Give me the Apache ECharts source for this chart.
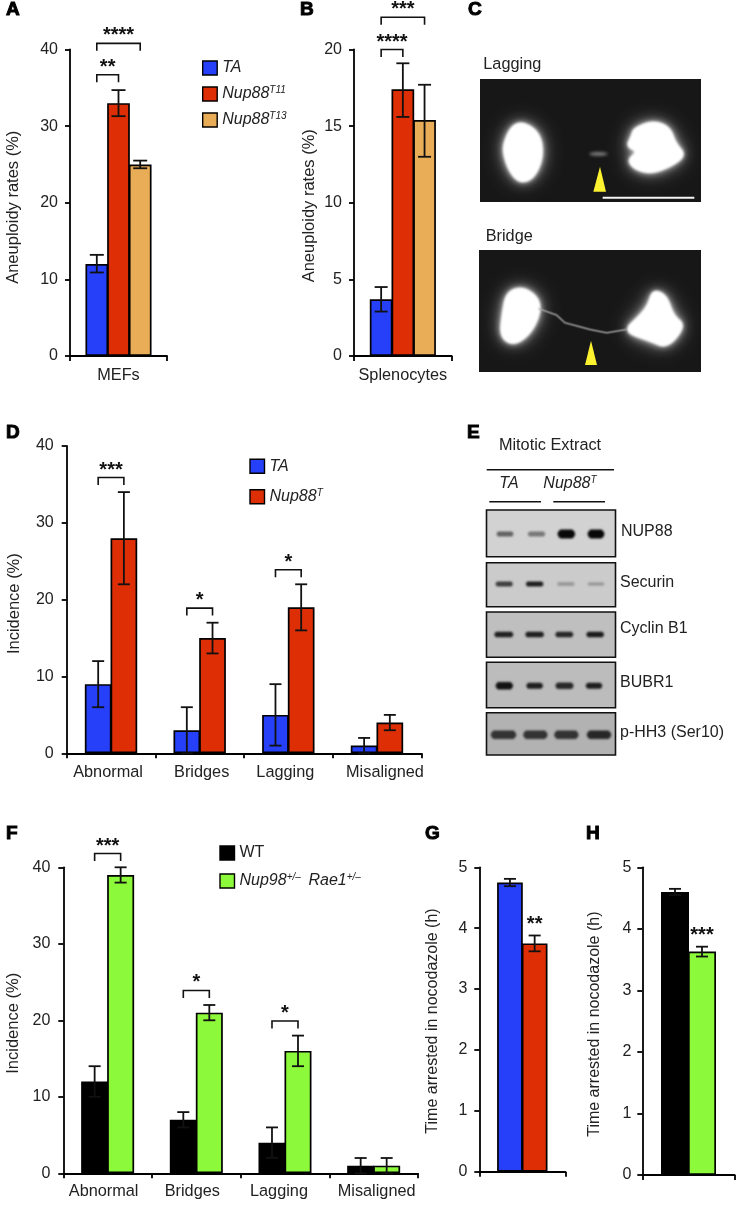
<!DOCTYPE html>
<html>
<head>
<meta charset="utf-8">
<style>html,body{margin:0;padding:0;background:#fff}#c{width:749px;height:1208px}</style>
<script src="https://cdn.jsdelivr.net/npm/echarts@6/dist/echarts.min.js"></script>
</head>
<body>
<div id="c"></div>
<script>
// ---------- Data ----------
const aCategories = ['MEFs'];
const aTA = [12], aT11 = [33], aT13 = [25];
const aErrors = [[10.9, 13.2], [31.3, 34.7], [24.5, 25.5]];
const bCategories = ['Splenocytes'];
const bTA = [3.7], bT11 = [17.4], bT13 = [15.4];
const bErrors = [[2.9, 4.5], [15.6, 19.1], [13.0, 17.7]];
const defectCategories = ['Abnormal', 'Bridges', 'Lagging', 'Misaligned'];
const dTA = [9, 3, 5, 1];
const dTALow = [6, 0, 1, 0];
const dTAHigh = [12, 6, 9, 2];
const dNup88 = [28, 15, 19, 4];
const dNup88Low = [22, 13, 16, 3];
const dNup88High = [34, 17, 22, 5];
const fWT = [12, 7, 4, 1];
const fWTLow = [10, 6, 2, 0];
const fWTHigh = [14, 8, 6, 2];
const fNup98 = [39, 21, 16, 1];
const fNup98Low = [38, 20, 14, 0];
const fNup98High = [40, 22, 18, 2];
const gTA = [4.75], gNup88 = [3.75];
const gErrors = [[4.69, 4.81], [3.62, 3.88]];
const hWT = [4.6], hNup98 = [3.63];
const hErrors = [[4.55, 4.65], [3.55, 3.71]];
// significance: [category, from bar, to bar, value at bracket]
const aSig = [[0, 0, 1, 36.7], [0, 0, 2, 40.8]], aStars = ['**', '****'];
const bSig = [[0, 0, 1, 20.0], [0, 0, 2, 22.1]], bStars = ['****', '***'];
const dSig = [[0, 0, 1, 35.9], [1, 0, 1, 18.9], [2, 0, 1, 23.9]], dStars = ['***', '*', '*'];
const fSig = [[0, 0, 1, 41.8], [1, 0, 1, 23.9], [2, 0, 1, 19.9]], fStars = ['***', '*', '*'];
const gSig = [[0, 1, 1, 3.94]], gStars = ['**'];
const hSig = [[0, 1, 1, 3.77]], hStars = ['***'];
// blot band intensity per lane
const blotNames = ['NUP88', 'Securin', 'Cyclin B1', 'BUBR1', 'p-HH3 (Ser10)'];
const nup88Bands = [0.55, 0.45, 1, 1];
const securinBands = [0.72, 0.88, 0.28, 0.28];
const cyclinBands = [0.88, 0.88, 0.84, 0.9];
const bubr1Bands = [0.95, 0.88, 0.82, 0.88];
const phh3Bands = [0.75, 0.75, 0.75, 0.82];

// ---------- Styling ----------
const FONT = '"Liberation Sans", Arial, sans-serif';
const TEXT = '#222';
const BLUE = '#2540f8', RED = '#dd2e06', ORANGE = '#e9ad58', GREEN = '#8cf93a', BLACK = '#000';
const AXW = 1.8;
const OVERLAP = 1; // neighbouring bars share their outline

const grids = [], xAxes = [], yAxes = [], series = [];

function errorSeries(idx, items, barW, nBars, cap) {
  return {
    type: 'custom', xAxisIndex: idx, yAxisIndex: idx, z: 5, silent: true, clip: false,
    data: items,
    renderItem(p, api) {
      const c = api.value(0), b = api.value(1);
      const x = api.coord([c, 0])[0] + (b - (nBars - 1) / 2) * barW;
      const y1 = api.coord([c, api.value(2)])[1], y2 = api.coord([c, api.value(3)])[1];
      const st = { stroke: '#111', lineWidth: 1.8, fill: null };
      return { type: 'group', children: [
        { type: 'line', shape: { x1: x, y1: y1, x2: x, y2: y2 }, style: st },
        { type: 'line', shape: { x1: x - cap, y1: y1, x2: x + cap, y2: y1 }, style: st },
        { type: 'line', shape: { x1: x - cap, y1: y2, x2: x + cap, y2: y2 }, style: st }
      ] };
    }
  };
}
function sigSeries(idx, items, stars, barW, nBars) {
  return {
    type: 'custom', xAxisIndex: idx, yAxisIndex: idx, z: 6, silent: true, clip: false,
    data: items,
    renderItem(p, api) {
      const c = api.value(0);
      const cx = api.coord([c, 0])[0];
      const x1 = cx + (api.value(1) - (nBars - 1) / 2) * barW;
      const x2 = cx + (api.value(2) - (nBars - 1) / 2) * barW;
      const y = api.coord([c, api.value(3)])[1];
      const kids = [{ type: 'text', style: { text: stars[p.dataIndex], x: (x1 + x2) / 2, y: y - 7.5, align: 'center', verticalAlign: 'middle',
        fontFamily: FONT, fontWeight: 'bold', fontSize: 20, fill: '#111' } }];
      if (x1 !== x2) kids.push({ type: 'polyline', shape: { points: [[x1, y + 7.5], [x1, y], [x2, y], [x2, y + 7.5]] },
        style: { stroke: '#111', lineWidth: 1.6, fill: null } });
      return { type: 'group', children: kids };
    }
  };
}
function addPanel(o) {
  const i = grids.length;
  grids.push({ left: o.left, top: o.top, width: o.width, height: o.height, containLabel: false });
  xAxes.push({
    gridIndex: i, type: 'category', data: o.cats.map((c, k) => {
      const s = o.shift ? o.shift[k] : 0;
      return { value: c, textStyle: { padding: s < 0 ? [0, -2 * s, 0, 0] : [0, 0, 0, 2 * s] } };
    }),
    axisLine: { show: true, lineStyle: { color: '#000', width: AXW } },
    axisTick: { show: true, length: 5, inside: false, alignWithLabel: false, lineStyle: { color: '#000', width: AXW } },
    axisLabel: { show: o.cats[0] !== '', margin: o.catMargin || 11, color: TEXT, fontFamily: FONT, fontSize: 16.3, interval: 0 },
    splitLine: { show: false }
  });
  yAxes.push({
    gridIndex: i, type: 'value', min: 0, max: o.max, interval: o.interval,
    name: o.yName, nameLocation: 'middle', nameGap: o.nameGap,
    nameTextStyle: { color: TEXT, fontFamily: FONT, fontSize: o.nameSize || 16.5, padding: [0, o.namePad || 0, 0, 0] },
    axisLine: { show: true, onZero: false, lineStyle: { color: '#000', width: AXW } },
    axisTick: { show: true, length: 5, lineStyle: { color: '#000', width: AXW } },
    axisLabel: { margin: o.labelMargin || 12, color: TEXT, fontFamily: FONT, fontSize: 16 },
    splitLine: { show: false }
  });
  const w = o.barW + OVERLAP;
  o.bars.forEach(b => series.push({
    type: 'bar', name: b.name, data: b.data, xAxisIndex: i, yAxisIndex: i,
    barWidth: w, barGap: (-OVERLAP / w * 100) + '%', itemStyle: { color: b.color, borderColor: '#000', borderWidth: 1.7 }, silent: true
  }));
  series.push(errorSeries(i, o.errors, o.barW, o.bars.length, o.cap));
  series.push(sigSeries(i, o.sig, o.stars, o.barW, o.bars.length));
}
const single = (errs) => errs.map((e, k) => [0, k, e[0], e[1]]);
const multi = (low, high, b) => low.map((l, k) => [k, b, l, high[k]]);

addPanel({ left: 70, top: 49.5, width: 97, height: 306.5, cats: aCategories, max: 40, interval: 10, catMargin: 12,
  yName: 'Aneuploidy rates (%)', nameGap: 48.5, namePad: 9, barW: 21.7, cap: 7,
  bars: [{ name: 'TA', data: aTA, color: BLUE }, { name: 'Nup88T11', data: aT11, color: RED }, { name: 'Nup88T13', data: aT13, color: ORANGE }],
  errors: single(aErrors), sig: aSig, stars: aStars });
addPanel({ left: 354, top: 49.5, width: 97.7, height: 306.5, cats: bCategories, max: 20, interval: 5, catMargin: 12,
  yName: 'Aneuploidy rates (%)', nameGap: 36.5, namePad: 6, barW: 21.7, cap: 6.5,
  bars: [{ name: 'TA', data: bTA, color: BLUE }, { name: 'Nup88T11', data: bT11, color: RED }, { name: 'Nup88T13', data: bT13, color: ORANGE }],
  errors: single(bErrors), sig: bSig, stars: bStars });
addPanel({ left: 66.7, top: 446, width: 354.6, height: 307.3, cats: defectCategories, max: 40, interval: 10, shift: [-3, 2, -3, 8],
  yName: 'Incidence (%)', nameGap: 44, namePad: 8, barW: 25.7, cap: 6, labelMargin: 13,
  bars: [{ name: 'TA', data: dTA, color: BLUE }, { name: 'Nup88T', data: dNup88, color: RED }],
  errors: multi(dTALow, dTAHigh, 0).concat(multi(dNup88Low, dNup88High, 1)), sig: dSig, stars: dStars });
addPanel({ left: 63.3, top: 867.3, width: 354.7, height: 306, cats: defectCategories, max: 40, interval: 10, shift: [-4, -4, -6, 3], catMargin: 10,
  yName: 'Incidence (%)', nameGap: 41, namePad: 6, barW: 26, cap: 6, labelMargin: 13,
  bars: [{ name: 'WT', data: fWT, color: BLACK }, { name: 'Nup98', data: fNup98, color: GREEN }],
  errors: multi(fWTLow, fWTHigh, 0).concat(multi(fNup98Low, fNup98High, 1)), sig: fSig, stars: fStars });
addPanel({ left: 479.3, top: 867.3, width: 86, height: 304.4, cats: [''], max: 5, interval: 1,
  yName: 'Time arrested in nocodazole (h)', nameGap: 39, namePad: 3, barW: 24.7, cap: 6, nameSize: 16,
  bars: [{ name: 'TA', data: gTA, color: BLUE }, { name: 'Nup88T', data: gNup88, color: RED }],
  errors: single(gErrors), sig: gSig, stars: gStars });
addPanel({ left: 642.3, top: 867.3, width: 92.4, height: 307.7, cats: [''], max: 5, interval: 1,
  yName: 'Time arrested in nocodazole (h)', nameGap: 40, namePad: 6, barW: 27, cap: 6, nameSize: 16, labelMargin: 11,
  bars: [{ name: 'WT', data: hWT, color: BLACK }, { name: 'Nup98', data: hNup98, color: GREEN }],
  errors: single(hErrors), sig: hSig, stars: hStars });

// ---------- Legends ----------
const richText = {
  i: { fontStyle: 'italic', fontSize: 16, fontFamily: FONT, color: TEXT },
  n: { fontSize: 16, fontFamily: FONT, color: TEXT },
  s: { fontStyle: 'italic', fontSize: 10, fontFamily: FONT, color: TEXT, verticalAlign: 'bottom', padding: [0, 0, 7, 0] }
};
const legendText = {
  'TA': '{i|TA}', 'Nup88T11': '{i|Nup88}{s|T11}', 'Nup88T13': '{i|Nup88}{s|T13}',
  'Nup88T': '{i|Nup88}{s|T}', 'WT': '{n|WT}', 'Nup98': '{i|Nup98}{s|+/–} \u2009{i|Rae1}{s|+/–}'
};
const mkLegend = (names, left, top, gap) => ({
  data: names, left, top, orient: 'vertical', itemWidth: 14.5, itemHeight: 14, itemGap: gap, padding: 0,
  selectedMode: false, icon: 'rect', formatter: n => legendText[n],
  itemStyle: { borderColor: '#000', borderWidth: 1.4 },
  textStyle: { rich: richText, fontSize: 16, fontFamily: FONT, color: TEXT }
});
const legends = [
  mkLegend(['TA', 'Nup88T11', 'Nup88T13'], 202, 60, 9.5),
  mkLegend(['TA', 'Nup88T'], 249.3, 458.3, 14),
  mkLegend(['WT', 'Nup98'], 219.3, 845, 11.5)
];

// ---------- Panel letters ----------
const letters = [['A', 6, 0], ['B', 300, 0], ['C', 468, 0], ['D', 6, 423], ['E', 467, 423], ['F', 6, 824], ['G', 425, 824], ['H', 586, 824]];
const titles = letters.map(l => ({ text: l[0], left: l[1], top: l[2], padding: 0,
  textStyle: { fontFamily: FONT, fontWeight: 'bold', fontSize: 19, color: '#000', textBorderColor: '#000', textBorderWidth: 1 } }));

// ---------- Micrographs (panel C) and blots (panel E) ----------
const els = [];
const SS = 2; // supersampling of the picture panels; canvas blur is in device pixels
const zC = pts => pts.map(p => [290 + p[0] / 3, p[1] / 3]);
const blur = px => 'blur(' + px * SS + 'px)';
function txt(text, x, y, opt) {
  els.push({ type: 'text', silent: true, z: 20, style: Object.assign({ text, x, y, fontFamily: FONT, fontSize: 16, fill: TEXT, align: 'left', verticalAlign: 'middle' }, opt || {}) });
}
function canvasImage(x, y, w, h, draw) {
  const cv = document.createElement('canvas');
  cv.width = Math.round(w * SS); cv.height = Math.round(h * SS);
  const ctx = cv.getContext('2d');
  ctx.scale(SS, SS); ctx.translate(-x, -y);
  draw(ctx);
  els.push({ type: 'image', silent: true, z: 10, style: { image: cv, x, y, width: w, height: h } });
}
function blob(ctx, pts) {
  const p = zC(pts);
  const path = () => {
    ctx.beginPath();
    p.forEach((q, i) => { const n = p[(i + 1) % p.length]; const mx = (q[0] + n[0]) / 2, my = (q[1] + n[1]) / 2;
      if (i === 0) ctx.moveTo(mx, my); else ctx.quadraticCurveTo(q[0], q[1], mx, my); });
    ctx.quadraticCurveTo(p[0][0], p[0][1], (p[0][0] + p[1][0]) / 2, (p[0][1] + p[1][1]) / 2);
    ctx.closePath();
  };
  [[13, 0.3], [7, 0.55], [3.5, 0.8], [1.6, 1], [1.2, 1]].forEach(l => {
    ctx.filter = blur(l[0]); ctx.fillStyle = 'rgba(255,255,255,' + l[1] + ')'; path(); ctx.fill();
  });
  ctx.filter = 'none';
}
function tri(pts) {
  els.push({ type: 'polygon', silent: true, z: 14, shape: { points: zC(pts) }, style: { fill: '#fdf22f' } });
}
canvasImage(480, 79.3, 220.7, 122.4, ctx => {
  ctx.fillStyle = '#171717'; ctx.fillRect(480, 79, 222, 124);
  blob(ctx, [[700, 365], [750, 400], [760, 470], [732, 535], [690, 550], [658, 515], [640, 460], [642, 428], [664, 378]]);
  blob(ctx, [[1030, 385], [1090, 362], [1140, 382], [1155, 430], [1188, 465], [1145, 498], [1080, 522], [1030, 506], [1012, 478], [1045, 455], [1008, 440], [1025, 408]]);
  ctx.filter = blur(1.6); ctx.fillStyle = 'rgba(160,160,160,0.8)';
  ctx.beginPath(); ctx.ellipse(290 + 925 / 3, 462 / 3, 9, 1.8, 0, 0, Math.PI * 2); ctx.fill();
  ctx.filter = 'none';
});
tri([[930, 500], [948, 575], [910, 575]]);
els.push({ type: 'line', silent: true, z: 14, shape: { x1: 290 + 938 / 3, y1: 197.7, x2: 290 + 1213 / 3, y2: 197.7 }, style: { stroke: '#f4f4f4', lineWidth: 2 } });
canvasImage(479.3, 250, 221.4, 121.7, ctx => {
  ctx.fillStyle = '#171717'; ctx.fillRect(479, 250, 223, 123);
  blob(ctx, [[650, 875], [700, 860], [748, 895], [750, 945], [718, 1005], [670, 1036], [630, 1010], [637, 940]]);
  blob(ctx, [[1088, 868], [1130, 885], [1150, 948], [1188, 975], [1133, 1045], [1080, 1022], [998, 994], [1048, 948], [1075, 915]]);
  ctx.filter = blur(0.8); ctx.strokeStyle = 'rgba(175,175,175,0.85)'; ctx.lineWidth = 1.6;
  const pts = zC([[745, 925], [800, 945], [825, 968], [900, 988], [950, 998], [1010, 988]]);
  ctx.beginPath(); pts.forEach((q, i) => i ? ctx.lineTo(q[0], q[1]) : ctx.moveTo(q[0], q[1])); ctx.stroke();
  ctx.filter = 'none';
});
tri([[903, 1022], [921, 1095], [885, 1095]]);
txt('Lagging', 483.3, 64.7, { fontSize: 16.3 });
txt('Bridge', 485.7, 236.7, { fontSize: 16.3 });

const blotRows = [
  { y: 510, h: 46.7, bg: '#d2d2d2', band: 534, bands: nup88Bands, ly: 532,
    spans: [[495.7, 514.3], [527, 546], [556, 576.7], [586, 606]], hs: [5, 5, 9, 9] },
  { y: 562.7, h: 44, bg: '#cbcbcb', band: 584, bands: securinBands, ly: 583,
    spans: [[494.7, 513.7], [525, 544.3], [556.7, 575], [587.3, 604.7]], hs: [5, 5, 3.5, 3] },
  { y: 612, h: 45.3, bg: '#bfbfbf', band: 634.5, bands: cyclinBands, ly: 629,
    spans: [[493.3, 514.3], [524.3, 545], [554.3, 574.3], [585.3, 605]], hs: [5.5, 5.5, 5.5, 5.5] },
  { y: 662.3, h: 45.4, bg: '#bcbcbc', band: 685.7, bands: bubr1Bands, ly: 683,
    spans: [[494.3, 514.3], [525.3, 544], [554.3, 574.7], [584.7, 603.3]], hs: [7.5, 6, 6.5, 6] },
  { y: 712.7, h: 42.3, bg: '#b2b2b2', band: 734.7, bands: phh3Bands, ly: 733,
    spans: [[489.3, 517.7], [521.7, 549], [552.7, 580], [585.3, 612.7]], hs: [8.5, 8.5, 8.5, 8.5] }
];
canvasImage(486, 509, 130, 247, ctx => {
  blotRows.forEach(r => {
    ctx.fillStyle = r.bg; ctx.fillRect(486, r.y, 130, r.h);
    ctx.filter = blur(1);
    r.bands.forEach((a, j) => {
      const s = r.spans[j], ry = r.hs[j] / 2;
      ctx.fillStyle = 'rgba(8,8,8,' + a + ')';
      ctx.beginPath();
      ctx.moveTo(s[0] + ry, r.band - ry);
      ctx.lineTo(s[1] - ry, r.band - ry);
      ctx.quadraticCurveTo(s[1] + ry * 0.3, r.band, s[1] - ry, r.band + ry);
      ctx.lineTo(s[0] + ry, r.band + ry);
      ctx.quadraticCurveTo(s[0] - ry * 0.3, r.band, s[0] + ry, r.band - ry);
      ctx.closePath(); ctx.fill();
    });
    ctx.filter = 'none';
  });
});
blotRows.forEach((r, k) => {
  els.push({ type: 'rect', silent: true, z: 12, shape: { x: 486.5, y: r.y, width: 129, height: r.h }, style: { fill: null, stroke: '#111', lineWidth: 1.6 } });
  txt(blotNames[k], k === 0 ? 621 : 620, r.ly);
});
txt('Mitotic Extract', 550, 445.7, { align: 'center', fontSize: 16.3 });
txt('TA', 509, 484, { align: 'center', fontStyle: 'italic', fontSize: 16 });
els.push({ type: 'text', silent: true, z: 20, style: { text: '{i|Nup88}{s|T}', x: 570, y: 484, align: 'center', verticalAlign: 'middle', rich: richText, fill: TEXT } });
[[486.7, 469.7, 614], [489.3, 501.7, 541], [553.3, 501.7, 605]].forEach(l => {
  els.push({ type: 'line', silent: true, z: 12, shape: { x1: l[0], y1: l[1], x2: l[2], y2: l[1] }, style: { stroke: '#111', lineWidth: 1.4 } });
});

const chart = echarts.init(document.getElementById('c'), null, { width: 749, height: 1208, renderer: 'canvas' });
chart.setOption({
  animation: false, backgroundColor: '#fff',
  title: titles, grid: grids, xAxis: xAxes, yAxis: yAxes, legend: legends, series, graphic: { elements: els }
});
</script>
</body>
</html>
